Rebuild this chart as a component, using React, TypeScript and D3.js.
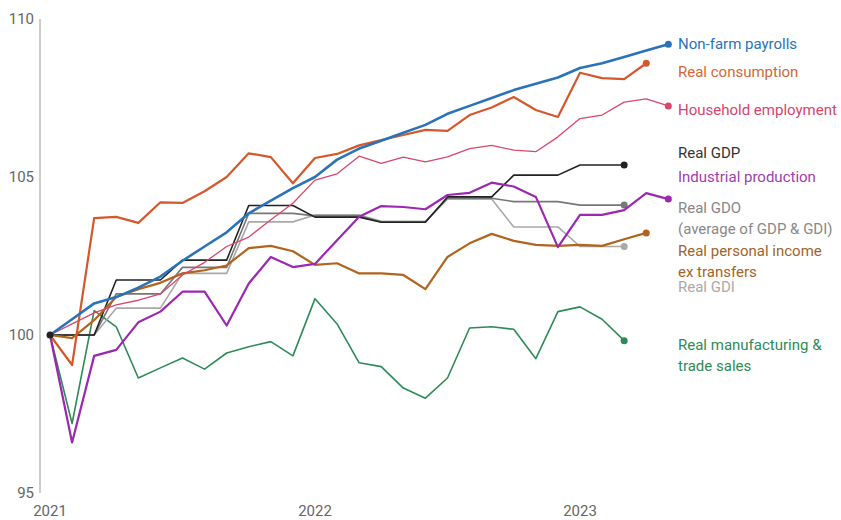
import React, { useRef, useEffect } from 'react';
import * as d3 from 'd3';

// monthly index, Jan 2021 = 100
const payrolls = [100, 100.5, 101.0, 101.2, 101.5, 101.85, 102.35, 102.8, 103.25, 103.85, 104.25, 104.65, 105.0, 105.55, 105.9, 106.15, 106.4, 106.65, 107.0, 107.25, 107.5, 107.75, 107.95, 108.15, 108.45, 108.6, 108.8, 109.0, 109.2];
const consumption = [100, 99.05, 103.7, 103.74, 103.55, 104.2, 104.18, 104.55, 105.0, 105.75, 105.63, 104.8, 105.6, 105.73, 106.0, 106.17, 106.33, 106.49, 106.46, 106.96, 107.2, 107.53, 107.12, 106.9, 108.3, 108.13, 108.1, 108.6];
const household = [100, 100.35, 100.7, 100.95, 101.1, 101.3, 101.9, 102.3, 102.8, 103.1, 103.65, 104.17, 104.9, 105.1, 105.66, 105.43, 105.63, 105.48, 105.64, 105.9, 106.0, 105.85, 105.8, 106.27, 106.85, 106.96, 107.37, 107.47, 107.25];
const industrial = [100, 96.6, 99.34, 99.53, 100.4, 100.74, 101.37, 101.37, 100.3, 101.63, 102.47, 102.15, 102.25, 103.0, 103.74, 104.08, 104.05, 103.98, 104.43, 104.5, 104.82, 104.7, 104.37, 102.78, 103.8, 103.8, 103.95, 104.49, 104.3];
const income = [100, 99.9, 100.47, 101.2, 101.45, 101.65, 101.95, 102.05, 102.2, 102.75, 102.82, 102.65, 102.22, 102.27, 101.95, 101.95, 101.9, 101.45, 102.47, 102.9, 103.2, 102.98, 102.85, 102.82, 102.85, 102.82, 103.03, 103.23];
const manufacturing = [100, 97.2, 100.77, 100.26, 98.64, 98.96, 99.27, 98.92, 99.43, 99.63, 99.79, 99.34, 101.15, 100.35, 99.12, 99.0, 98.32, 98.0, 98.64, 100.22, 100.26, 100.18, 99.25, 100.74, 100.89, 100.5, 99.82];

// quarterly, Q1 2021 .. Q1 2023
const gdpQ = [100, 101.74, 102.37, 104.1, 103.73, 103.57, 104.37, 105.06, 105.38];
const gdiQ = [100, 100.85, 101.95, 103.58, 103.8, 103.6, 104.3, 103.42, 102.8];
const gdoQ = [100, 101.3, 102.14, 103.85, 103.77, 103.58, 104.33, 104.22, 104.11];

const yTicks = [95, 100, 105, 110];
const xTicks = [{ m: 0, label: '2021' }, { m: 12, label: '2022' }, { m: 24, label: '2023' }];

// each quarter is held flat over its three months
const monthly = (q: number[]) => q.flatMap(v => [v, v, v]);

const series = [
  { name: 'manufacturing', values: manufacturing, color: '#2e8b57', width: 1.6 },
  { name: 'gdi', values: monthly(gdiQ), color: '#a8a8a8', width: 1.6 },
  { name: 'gdo', values: monthly(gdoQ), color: '#777777', width: 1.6 },
  { name: 'gdp', values: monthly(gdpQ), color: '#222222', width: 1.6 },
  { name: 'income', values: income, color: '#b0641e', width: 2.2 },
  { name: 'industrial', values: industrial, color: '#9c27b0', width: 2.2 },
  { name: 'household', values: household, color: '#d9476d', width: 1.3 },
  { name: 'consumption', values: consumption, color: '#d4582b', width: 2.2 },
  { name: 'payrolls', values: payrolls, color: '#2a73b8', width: 2.6 },
];

const labels = [
  { lines: ['Non-farm payrolls'], y: 44, color: '#2a73b8' },
  { lines: ['Real consumption'], y: 72, color: '#d0683a' },
  { lines: ['Household employment'], y: 110, color: '#d6456e' },
  { lines: ['Real GDP'], y: 153, color: '#333333' },
  { lines: ['Industrial production'], y: 177, color: '#a23bb0' },
  { lines: ['Real GDO', '(average of GDP & GDI)'], y: 208, color: '#888888' },
  { lines: ['Real personal income', 'ex transfers'], y: 251, color: '#a0642a' },
  { lines: ['Real GDI'], y: 287, color: '#aaaaaa' },
  { lines: ['Real manufacturing &', 'trade sales'], y: 345, color: '#2e8b57' },
];

const App: React.FC = () => {
  const ref = useRef<SVGSVGElement>(null);

  useEffect(() => {
    if (!ref.current) return;
    const svg = d3.select(ref.current);
    svg.selectAll('*').remove();

    const x = d3.scaleLinear().domain([0, 24]).range([50, 580]);
    const y = d3.scaleLinear().domain([95, 110]).range([493, 19]);
    const font = 'Roboto, "Noto Sans", sans-serif';

    svg.append('line')
      .attr('x1', 40).attr('x2', 40)
      .attr('y1', y(110)).attr('y2', y(95))
      .attr('stroke', '#cccccc').attr('stroke-width', 2);

    svg.selectAll('.ytick')
      .data(yTicks)
      .enter().append('text')
      .attr('x', 34).attr('y', d => y(d))
      .attr('dy', '0.35em')
      .attr('text-anchor', 'end')
      .attr('font-family', font).attr('font-size', 15)
      .attr('fill', '#666')
      .text(d => d);

    svg.selectAll('.xtick')
      .data(xTicks)
      .enter().append('text')
      .attr('x', d => x(d.m)).attr('y', 516)
      .attr('text-anchor', 'middle')
      .attr('font-family', font).attr('font-size', 15)
      .attr('fill', '#666')
      .text(d => d.label);

    const line = d3.line<number>()
      .x((_, i) => x(i))
      .y(d => y(d));

    series.forEach(s => {
      svg.append('path')
        .datum(s.values)
        .attr('d', line)
        .attr('fill', 'none')
        .attr('stroke', s.color)
        .attr('stroke-width', s.width)
        .attr('stroke-linejoin', 'round');
      const last = s.values.length - 1;
      svg.append('circle')
        .attr('cx', x(last)).attr('cy', y(s.values[last]))
        .attr('r', 3.5)
        .attr('fill', s.color);
    });

    svg.append('circle')
      .attr('cx', x(0)).attr('cy', y(100))
      .attr('r', 3.5).attr('fill', '#222');

    labels.forEach(l => {
      const t = svg.append('text')
        .attr('font-family', font).attr('font-size', 15)
        .attr('fill', l.color);
      l.lines.forEach((ln, i) => {
        t.append('tspan')
          .attr('x', 678).attr('y', l.y + i * 21)
          .attr('dy', '0.35em')
          .text(ln);
      });
    });
  }, []);

  return (
    <svg ref={ref} width={841} height={520}
      style={{ position: 'absolute', left: 0, top: 0, background: '#fff' }} />
  );
};

export default App;
